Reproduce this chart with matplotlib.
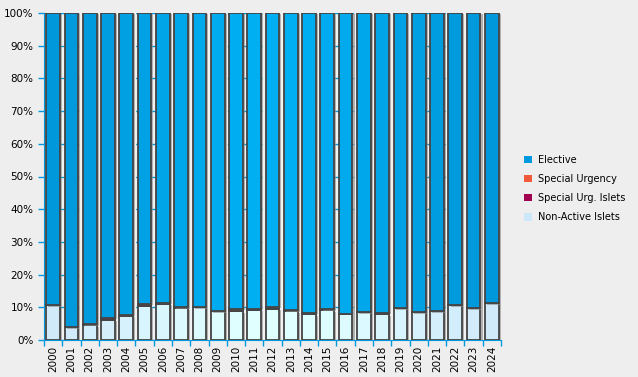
import numpy as np
import matplotlib
matplotlib.use("Agg")
import matplotlib.pyplot as plt
import matplotlib.patheffects as pe
from matplotlib.patches import Patch
from matplotlib.colors import to_rgb

# percentages
years = [str(y) for y in range(2000, 2025)]
non_active = [10.6, 3.9, 4.5, 6.1, 7.4, 10.4, 11.0, 9.7, 10.0, 8.8, 8.8, 9.3, 9.6,
              8.8, 7.9, 9.1, 8.0, 8.5, 7.9, 9.7, 8.5, 8.8, 10.6, 9.7, 11.2]
urg_islets = [0.0, 0.0, 0.3, 0.6, 0.3, 0.6, 0.3, 0.3, 0.0, 0.0, 0.2, 0.3, 0.2,
              0.3, 0.4, 0.3, 0.0, 0.0, 0.4, 0.0, 0.0, 0.0, 0.0, 0.0, 0.0]
special_urg = [0.0, 0.0, 0.0, 0.0, 0.0, 0.0, 0.0, 0.0, 0.0, 0.0, 0.5, 0.0, 0.4,
               0.0, 0.0, 0.0, 0.0, 0.0, 0.0, 0.0, 0.0, 0.0, 0.0, 0.0, 0.0]
elective = [100 - a - b - c for a, b, c in zip(non_active, urg_islets, special_urg)]

legend_labels = ["Elective", "Special Urgency", "Special Urg. Islets", "Non-Active Islets"]


def blend(c1, c2, t):
    a, b = np.array(to_rgb(c1)), np.array(to_rgb(c2))
    return tuple(a + (b - a) * t)


# colours shift a bit across the bars (brighter in the middle)
n = len(years)
w = np.sin(np.linspace(0, np.pi, n)) ** 1.5
elec_cols = [blend("#0098da", "#00aef2", t) for t in w]
na_cols = [blend("#d0eafa", "#e0ffff", t) for t in w]

fig = plt.figure(figsize=(6.38, 3.77), dpi=100, facecolor="#eeeeee")
ax = fig.add_axes([44 / 638, 37 / 377, 457 / 638, 327 / 377])
ax.set_facecolor("#f2f2f2")

x = np.arange(n)
shadow = [pe.SimplePatchShadow(offset=(1.5, -1), shadow_rgbFace="#888888", alpha=0.6), pe.Normal()]
kw = dict(width=0.75, edgecolor="#444444", linewidth=1.3, zorder=3)

bottom = np.zeros(n)
ax.bar(x, non_active, bottom=bottom, color=na_cols, path_effects=shadow, **kw)
bottom += non_active
ax.bar(x, urg_islets, bottom=bottom, color="#a0004f", **kw)
bottom += urg_islets
ax.bar(x, special_urg, bottom=bottom, color="#f25a3c", **kw)
bottom += special_urg
ax.bar(x, elective, bottom=bottom, color=elec_cols, path_effects=shadow, **kw)

ax.set_xlim(-0.5, n - 0.5)
ax.set_ylim(0, 100)
ax.set_yticks(range(0, 101, 10))
ax.set_yticklabels([f"{v}%" for v in range(0, 101, 10)], fontsize=7.5)
ax.set_xticks(x)
ax.set_xticklabels(years, rotation=90, fontsize=7.5)
ax.set_xticks(np.arange(-0.5, n, 1), minor=True)
ax.tick_params(axis="x", which="major", length=0, pad=4)
ax.tick_params(axis="x", which="minor", length=4, color="#0099dd", width=1)
ax.tick_params(axis="y", length=4, color="#0099dd", width=1)

ax.grid(axis="y", color="#0099dd", linestyle=(0, (3, 8)), linewidth=1, zorder=0)
ax.set_axisbelow(True)
for s in ["top", "right"]:
    ax.spines[s].set_visible(False)
ax.spines["left"].set_color("#0099dd")
ax.spines["bottom"].set_color("#0099dd")

handles = [Patch(facecolor=c, edgecolor="none") for c in
           ["#0099dd", "#f25a3c", "#a0004f", "#cce8f8"]]
fig.legend(handles, legend_labels, loc="center left", bbox_to_anchor=(515 / 638, 0.5),
           frameon=False, fontsize=7, handlelength=0.8, handleheight=0.8,
           handletextpad=0.7, labelspacing=0.95)

fig.savefig("out.png", dpi=100, facecolor=fig.get_facecolor())
